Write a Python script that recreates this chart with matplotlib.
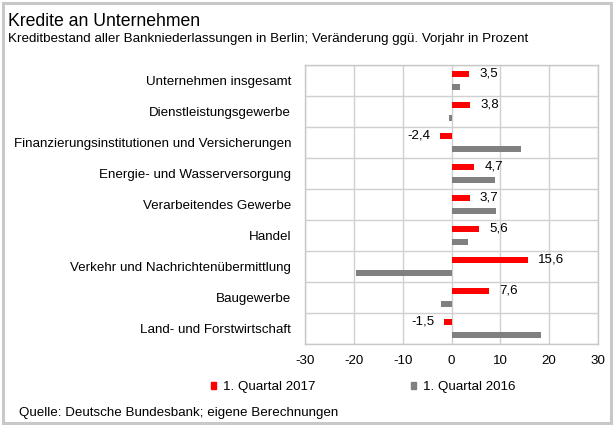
import matplotlib
matplotlib.use("Agg")
import matplotlib.pyplot as plt
from matplotlib.patches import Rectangle, Patch

plt.rcParams['font.family'] = ['Liberation Sans', 'DejaVu Sans']

categories = [
    "Unternehmen insgesamt",
    "Dienstleistungsgewerbe",
    "Finanzierungsinstitutionen und Versicherungen",
    "Energie- und Wasserversorgung",
    "Verarbeitendes Gewerbe",
    "Handel",
    "Verkehr und Nachrichtenübermittlung",
    "Baugewerbe",
    "Land- und Forstwirtschaft",
]
q1_2017 = [3.5, 3.8, -2.4, 4.7, 3.7, 5.6, 15.6, 7.6, -1.5]
q1_2016 = [1.7, -0.5, 14.2, 8.9, 9.2, 3.4, -19.5, -2.1, 18.4]
series_names = ["1. Quartal 2017", "1. Quartal 2016"]
xticks = [-30, -20, -10, 0, 10, 20, 30]

FS = 9.6
W, H = 614, 425
fig = plt.figure(figsize=(W / 100, H / 100), dpi=100)

# outer frame
fig.patches.append(Rectangle((3 / W, 2 / H), (W - 6) / W, (H - 5) / H,
                             transform=fig.transFigure, fill=False,
                             edgecolor="#c8c8c8", linewidth=2.2))

fig.text(8 / W, 1 - 21 / H, "Kredite an Unternehmen", fontsize=12.7,
         va="center", ha="left")
fig.text(8 / W, 1 - 39 / H,
         "Kreditbestand aller Bankniederlassungen in Berlin; Veränderung ggü. Vorjahr in Prozent",
         fontsize=FS, va="center", ha="left")

ax = fig.add_axes([305 / W, 1 - 344 / H, (598 - 305) / W, (344 - 65) / H])

y = list(range(len(categories)))
h = 0.215
off = 0.215
ax.barh([v - off for v in y], q1_2017, height=h, color="#ff0000",
        label=series_names[0], zorder=3)
ax.barh([v + off for v in y], q1_2016, height=h, color="#808080",
        label=series_names[1], zorder=3)

for yi, v in zip(y, q1_2017):
    lbl = f"{v:.1f}".replace(".", ",")
    ax.annotate(lbl, (v, yi - off), xytext=(7.5 if v >= 0 else -7, 0),
                textcoords="offset points", va="center",
                ha="left" if v >= 0 else "right", fontsize=FS)

ax.set_xlim(-30, 30)
ax.set_ylim(len(categories) - 0.5, -0.5)
ax.set_xticks(xticks)
ax.set_xticklabels([str(t) for t in xticks], fontsize=FS)
ax.set_yticks(y)
ax.set_yticklabels(categories, fontsize=FS)
ax.set_yticks([v - 0.5 for v in range(len(categories) + 1)], minor=True)
ax.tick_params(axis="both", which="both", length=0)
ax.tick_params(axis="y", pad=10)
ax.tick_params(axis="x", pad=8)
ax.grid(True, axis="x", color="#d0d0d0", linewidth=1, zorder=0)
ax.grid(True, axis="y", which="minor", color="#d0d0d0", linewidth=1, zorder=0)
ax.grid(False, axis="y", which="major")
for s in ax.spines.values():
    s.set_color("#c8c8c8")
    s.set_linewidth(1)

handles = [Patch(color="#ff0000"), Patch(color="#808080")]
fig.legend(handles, series_names, loc="center", bbox_to_anchor=(363 / W, 1 - 387 / H),
           ncol=2, frameon=False, fontsize=FS, handlelength=0.4, handleheight=0.4,
           handletextpad=0.5, columnspacing=7.2, borderpad=0, borderaxespad=0)

fig.text(19 / W, 1 - 413 / H, "Quelle: Deutsche Bundesbank; eigene Berechnungen",
         fontsize=FS, va="center", ha="left")

fig.savefig("out.png", dpi=100)
